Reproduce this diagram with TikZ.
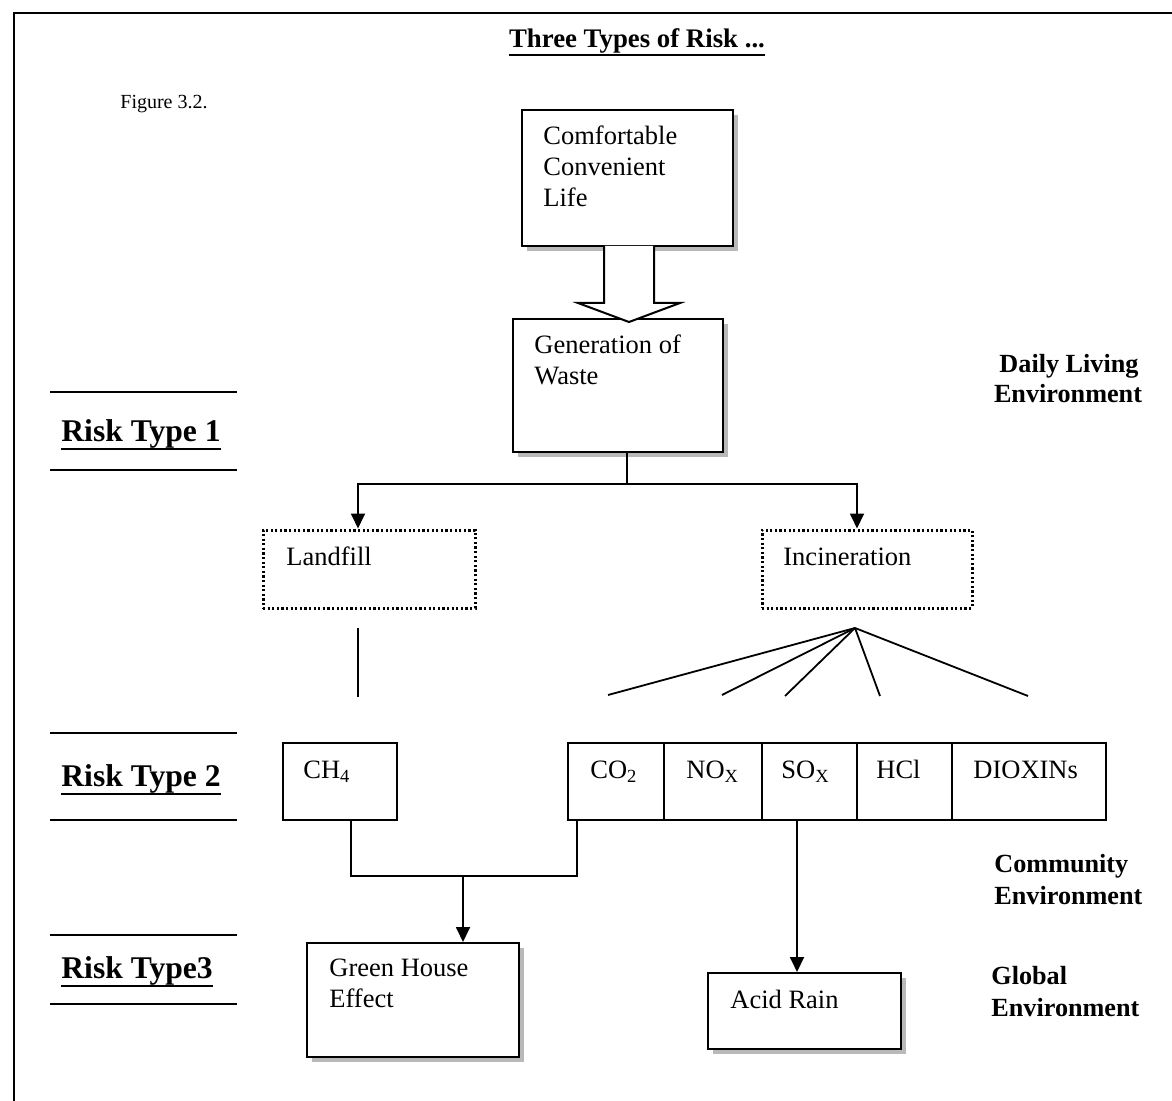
\documentclass[tikz,border=0pt]{standalone}
\usepackage{fontspec}
\setmainfont{Liberation Serif}
\usetikzlibrary{arrows.meta,fit,shadows}

\begin{document}
\begin{tikzpicture}[x=0.5pt,y=-0.5pt,
  box/.style={draw, line width=1pt, fill=white, inner sep=0pt,
    drop shadow={shadow xshift=2.5pt, shadow yshift=-2.5pt, fill=gray!55, opacity=1}},
  plainbox/.style={draw, line width=1pt, inner sep=0pt},
  dotbox/.style={draw, line width=1.5pt, dash pattern=on 1.1pt off 1.2pt, inner sep=0pt},
  link/.style={line width=0.9pt},
  arrowlink/.style={link, -{Triangle[length=7.5pt,width=7pt]}},
  txt/.style={anchor=base west, inner sep=0pt, font=\fontsize{13.25}{15}\selectfont},
  risk/.style={anchor=base west, inner sep=0pt, font=\fontsize{15.8}{18}\selectfont\bfseries},
  env/.style={inner sep=0pt, font=\fontsize{13.1}{15}\selectfont\bfseries},
  rule/.style={line width=0.9pt},
  uline/.style={line width=1pt}
]
\useasboundingbox (0,0) rectangle (1172,1101);

% outer frame (top and left edges only)
\draw[line width=1pt] (1172,13) -- (14,13) -- (14,1101);

% heading and figure number
\node[anchor=base, inner sep=0pt, font=\fontsize{13.4}{16}\selectfont\bfseries] (title) at (637,48) {Three Types of Risk ...};
\draw[uline] ([yshift=-3.6pt]title.base west) -- ([yshift=-3.6pt]title.base east);
\node[anchor=base west, inner sep=0pt, font=\fontsize{10}{12}\selectfont] (fig) at (120,109) {Figure 3.2.};

% risk-type labels between rules
\draw[rule] (50,392) -- (237,392);
\draw[rule] (50,470) -- (237,470);
\node[risk] (rt1) at (61,441) {Risk Type 1};
\draw[uline] ([yshift=-3.8pt]rt1.base west) -- ([yshift=-3.8pt]rt1.base east);
\draw[rule] (50,733) -- (237,733);
\draw[rule] (50,820) -- (237,820);
\node[risk] (rt2) at (61,786) {Risk Type 2};
\draw[uline] ([yshift=-3.8pt]rt2.base west) -- ([yshift=-3.8pt]rt2.base east);
\draw[rule] (50,935) -- (237,935);
\draw[rule] (50,1004) -- (237,1004);
\node[risk] (rt3) at (61,978) {Risk Type3};
\draw[uline] ([yshift=-3.8pt]rt3.base west) -- ([yshift=-3.8pt]rt3.base east);

% environment labels on the right
\node[env, anchor=base] (daily) at (1069,372) {Daily Living};
\node[env, anchor=base] (daily2) at (1068,402) {Environment};
\node[env, anchor=base west] (comm) at (994,872) {Community};
\node[env, anchor=base west] (comm2) at (994,904) {Environment};
\node[env, anchor=base west] (glob) at (991,984) {Global};
\node[env, anchor=base west] (glob2) at (991,1016) {Environment};

% top chain
\node[box, fit={(522,110) (733,246)}] (life) {};
\node[txt] (lifeA) at (543,145) {Comfortable};
\node[txt] (lifeB) at (543,176) {Convenient};
\node[txt] (lifeC) at (543,207) {Life};

\node[box, fit={(513,319) (723,452)}] (gen) {};
\node[txt] (genA) at (534,354) {Generation of};
\node[txt] (genB) at (534,385) {Waste};

% hollow block arrow
\draw[line width=1pt, fill=white, line join=miter]
  (604,246) -- (604,303) -- (578,303) -- (629,322) -- (680,303) -- (654,303) -- (654,246);

% treatment options
\node[dotbox, fit={(263,530) (475,608)}] (land) {};
\node[txt] (landT) at (286,565) {Landfill};
\node[dotbox, fit={(762,530) (972,608)}] (inc) {};
\node[txt] (incT) at (783,565) {Incineration};

\coordinate (split) at (627,484);
\draw[link] (gen.south -| split) -- (split);
\draw[arrowlink] (split) -| (land.north -| 358,0);
\draw[arrowlink] (split) -| (inc.north -| 857,0);

% emissions
\node[plainbox, fit={(283,743) (397,820)}] (ch4) {};
\node[txt] (ch4T) at (303,778) {CH\textsubscript{4}};

\node[plainbox, fit={(568,743) (664,820)}] (co2) {};
\node[plainbox, fit={(664,743) (762,820)}] (nox) {};
\node[plainbox, fit={(762,743) (857,820)}] (sox) {};
\node[plainbox, fit={(857,743) (952,820)}] (hcl) {};
\node[plainbox, fit={(952,743) (1106,820)}] (diox) {};
\node[txt] (co2T) at (590,778) {CO\textsubscript{2}};
\node[txt] (noxT) at (686,778) {NO\textsubscript{X}};
\node[txt] (soxT) at (781,778) {SO\textsubscript{X}};
\node[txt] (hclT) at (876,778) {HCl};
\node[txt] (dioxT) at (973,778) {DIOXINs};

% landfill stroke
\coordinate (lfA) at (358,628);
\coordinate (lfB) at (358,697);
\draw[link] (lfA) -- (lfB);

% incineration fan
\coordinate (fan) at (855,628);
\coordinate (f1) at (608,695);
\coordinate (f2) at (722,695);
\coordinate (f3) at (785,696);
\coordinate (f4) at (880,696);
\coordinate (f5) at (1028,696);
\foreach \e in {f1,f2,f3,f4,f5} \draw[link] (fan) -- (\e);

% global effects
\node[box, fit={(307,943) (519,1057)}] (green) {};
\node[txt] (greenA) at (329,976) {Green House};
\node[txt] (greenB) at (329,1007) {Effect};
\node[box, fit={(708,973) (901,1049)}] (acid) {};
\node[txt] (acidT) at (730,1008) {Acid Rain};

\coordinate (join) at (463,876);
\draw[link] (ch4.south -| 351,0) |- (join) -| (co2.south -| 577,0);
\draw[arrowlink] (join) -- (green.north -| join);
\draw[arrowlink] (sox.south -| 797,0) -- (acid.north -| 797,0);
\end{tikzpicture}
\end{document}
